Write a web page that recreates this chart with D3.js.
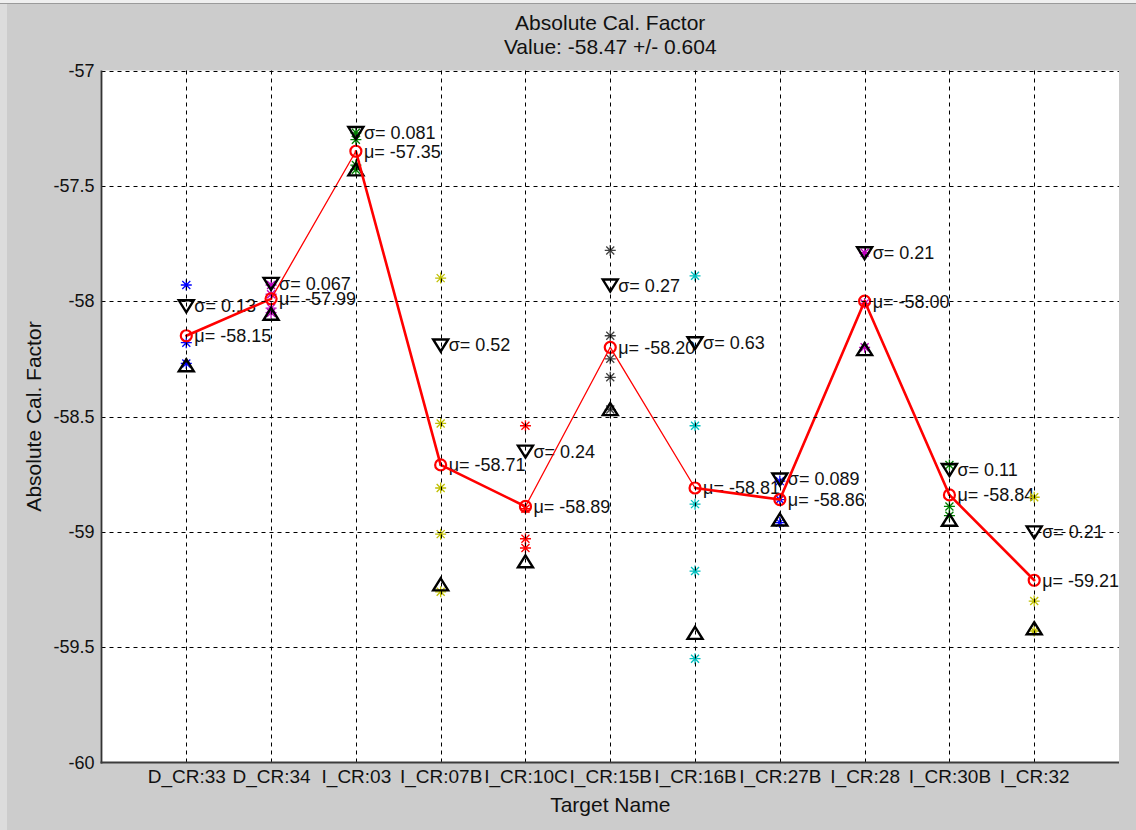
<!DOCTYPE html>
<html>
<head>
<meta charset="utf-8">
<script src="https://cdn.jsdelivr.net/npm/d3@7"></script>
<style>
  body { margin: 0; background: #cccccc; }
  svg { display: block; }
  text { font-family: Arial, 'Liberation Sans', sans-serif; fill: #111; }
</style>
</head>
<body>
<svg></svg>
<script>
// targets along the x axis
var targets = ['D_CR:33', 'D_CR:34', 'I_CR:03', 'I_CR:07B', 'I_CR:10C', 'I_CR:15B',
  'I_CR:16B', 'I_CR:27B', 'I_CR:28', 'I_CR:30B', 'I_CR:32']

// mean per target (red line)
var muValues = [-58.15, -57.99, -57.35, -58.71, -58.89, -58.20, -58.81, -58.86, -58.00, -58.84, -59.21]

// sigma per target (triangles drawn at mu +/- sigma)
var sigmaValues = [0.13, 0.067, 0.081, 0.52, 0.24, 0.27, 0.63, 0.089, 0.21, 0.11, 0.21]

// individual measurements per target
var samples = [
  [-57.93, -58.18, -58.27],
  [-57.93, -57.97, -58.03, -58.05],
  [-57.27, -57.30, -57.41, -57.43],
  [-57.90, -58.53, -58.81, -59.01, -59.26],
  [-58.54, -58.90, -59.03, -59.07],
  [-57.78, -58.15, -58.25, -58.33, -58.47],
  [-57.89, -58.54, -58.88, -59.17, -59.55],
  [-58.78, -58.86, -58.96],
  [-57.79, -58.01, -58.20],
  [-58.71, -58.89, -58.93],
  [-58.85, -59.30, -59.43]
]
var sampleColors = ['#0000ff', '#bf00bf', '#008000', '#bfbf00', '#ff0000', '#404040',
  '#00bfbf', '#0000ff', '#bf00bf', '#008000', '#bfbf00']

var yTicks = [-57, -57.5, -58, -58.5, -59, -59.5, -60]

var titleLines = ['Absolute Cal. Factor', 'Value: -58.47 +/- 0.604']

// segments of the mean line that come out thin in the original
var thinSegments = [1, 4, 5]

var width = 1136
var height = 830
var margin = { top: 70.5, right: 17, bottom: 67.5, left: 101.5 }

var svg = d3.select('svg').attr('width', width).attr('height', height)

// window chrome
svg.append('rect').attr('width', width).attr('height', height).attr('fill', '#cccccc')
svg.append('rect').attr('width', 7).attr('height', height).attr('fill', '#dcdcdc')
svg.append('rect').attr('width', width).attr('height', 3).attr('fill', '#efefef')
svg.append('line').attr('x1', 0).attr('x2', width).attr('y1', 3.5).attr('y2', 3.5)
  .attr('stroke', '#9a9a9a')

var data = targets.map((t, i) => ({
  name: t,
  idx: i + 1,
  mu: muValues[i],
  sigma: sigmaValues[i],
  samples: samples[i],
  color: sampleColors[i]
}))

var x = d3.scaleLinear().domain([0, 12]).range([margin.left, width - margin.right])
var y = d3.scaleLinear().domain([-60, -57]).range([height - margin.bottom, margin.top])

// plot area
svg.append('rect')
  .attr('x', margin.left)
  .attr('y', margin.top)
  .attr('width', width - margin.right - margin.left)
  .attr('height', height - margin.bottom - margin.top)
  .attr('fill', '#ffffff')

var star = 'M-5.5,0H5.5M0,-5.5V5.5M-4,-4L4,4M-4,4L4,-4'
var triUp = 'M0,-6.5L7.5,5.5L-7.5,5.5Z'
var triDown = 'M0,6.5L7.5,-5.5L-7.5,-5.5Z'

var sigmaFmt = d3.format('.2r')
var muFmt = v => v.toFixed(2)

// per target: samples, triangles, labels
data.forEach(d => {
  var g = svg.append('g').attr('class', 'target')

  g.selectAll('path.star')
    .data(d.samples)
    .join('path')
    .attr('class', 'star')
    .attr('d', star)
    .attr('transform', v => `translate(${x(d.idx)},${y(v)})`)
    .attr('stroke', d.color)
    .attr('stroke-width', 1.3)
    .attr('fill', 'none')

  g.append('path')
    .attr('d', triDown)
    .attr('transform', `translate(${x(d.idx)},${y(d.mu + d.sigma)})`)
    .attr('stroke', '#000')
    .attr('stroke-width', 2.4)
    .attr('fill', 'none')

  g.append('path')
    .attr('d', triUp)
    .attr('transform', `translate(${x(d.idx)},${y(d.mu - d.sigma)})`)
    .attr('stroke', '#000')
    .attr('stroke-width', 2.4)
    .attr('fill', 'none')

  g.append('text')
    .attr('x', x(d.idx) + 8)
    .attr('y', y(d.mu + d.sigma))
    .attr('dy', '0.36em')
    .attr('font-size', 18)
    .text('σ= ' + sigmaFmt(d.sigma).replace('−', '-'))

  g.append('text')
    .attr('x', x(d.idx) + 8)
    .attr('y', y(d.mu))
    .attr('dy', '0.36em')
    .attr('font-size', 18)
    .text('μ= ' + muFmt(d.mu))
})

// mean line, segment by segment
var segments = d3.pairs(data).map((p, i) => ({ a: p[0], b: p[1], thin: thinSegments.includes(i) }))

svg.append('g')
  .selectAll('line')
  .data(segments)
  .join('line')
  .attr('x1', d => x(d.a.idx))
  .attr('y1', d => y(d.a.mu))
  .attr('x2', d => x(d.b.idx))
  .attr('y2', d => y(d.b.mu))
  .attr('stroke', '#ff0000')
  .attr('stroke-width', d => d.thin ? 1.3 : 2.6)
  .attr('stroke-linecap', 'round')

svg.append('g')
  .selectAll('circle')
  .data(data)
  .join('circle')
  .attr('cx', d => x(d.idx))
  .attr('cy', d => y(d.mu))
  .attr('r', 5.5)
  .attr('fill', 'none')
  .attr('stroke', '#ff0000')
  .attr('stroke-width', 2.2)

// grid on top, like the original
var grid = svg.append('g').attr('class', 'grid')
  .attr('stroke', '#000')
  .attr('stroke-width', 1)
  .attr('stroke-dasharray', '4,4')

grid.selectAll('line.h')
  .data(yTicks.filter(t => t !== -60))
  .join('line')
  .attr('class', 'h')
  .attr('x1', margin.left)
  .attr('x2', width - margin.right)
  .attr('y1', d => Math.round(y(d)) + 0.5)
  .attr('y2', d => Math.round(y(d)) + 0.5)

grid.selectAll('line.v')
  .data(data)
  .join('line')
  .attr('class', 'v')
  .attr('x1', d => Math.round(x(d.idx)) + 0.5)
  .attr('x2', d => Math.round(x(d.idx)) + 0.5)
  .attr('y1', margin.top)
  .attr('y2', height - margin.bottom)

// axis lines
svg.append('line')
  .attr('x1', margin.left)
  .attr('x2', margin.left)
  .attr('y1', margin.top)
  .attr('y2', height - margin.bottom + 1)
  .attr('stroke', '#333')
  .attr('stroke-width', 1.8)

svg.append('line')
  .attr('x1', margin.left - 1)
  .attr('x2', width - margin.right)
  .attr('y1', height - margin.bottom)
  .attr('y2', height - margin.bottom)
  .attr('stroke', '#3c3c3c')
  .attr('stroke-width', 2)

// y axis
var yAxis = svg.append('g')
  .attr('transform', `translate(${margin.left},0)`)
  .call(d3.axisLeft(y).tickValues(yTicks).tickSize(0).tickPadding(7).tickFormat(d => String(d)))
yAxis.select('.domain').remove()
yAxis.selectAll('text').attr('font-size', 18).attr('fill', '#111')
  .attr('font-family', 'Arial, Liberation Sans, sans-serif')

// x axis
var xAxis = svg.append('g')
  .attr('transform', `translate(0,${height - margin.bottom})`)
  .call(d3.axisBottom(x).tickValues(data.map(d => d.idx)).tickSize(0).tickPadding(7)
    .tickFormat((d, i) => targets[i]))
xAxis.select('.domain').remove()
xAxis.selectAll('text').attr('font-size', 19).attr('fill', '#111')
  .attr('font-family', 'Arial, Liberation Sans, sans-serif')

// titles
var cx = (margin.left + width - margin.right) / 2
svg.selectAll('text.title')
  .data(titleLines)
  .join('text')
  .attr('class', 'title')
  .attr('x', cx)
  .attr('y', (d, i) => 22 + i * 24)
  .attr('dy', '0.36em')
  .attr('text-anchor', 'middle')
  .attr('font-size', 21)
  .text(d => d)

svg.append('text')
  .attr('x', cx)
  .attr('y', 804)
  .attr('dy', '0.36em')
  .attr('text-anchor', 'middle')
  .attr('font-size', 21)
  .text('Target Name')

svg.append('text')
  .attr('transform', `translate(33,${(margin.top + height - margin.bottom) / 2}) rotate(-90)`)
  .attr('dy', '0.36em')
  .attr('text-anchor', 'middle')
  .attr('font-size', 21)
  .text('Absolute Cal. Factor')
</script>
</body>
</html>
